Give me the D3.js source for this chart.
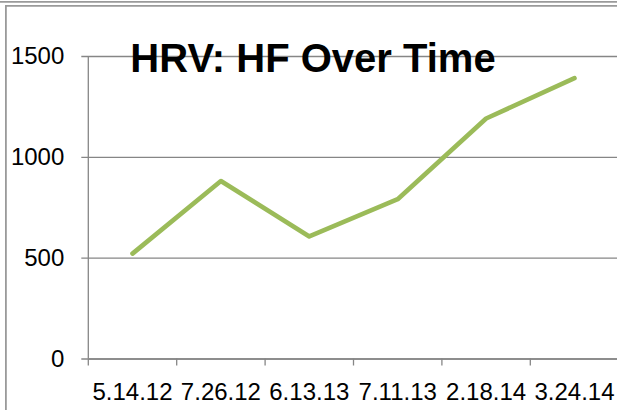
<!DOCTYPE html>
<html>
<head>
<meta charset="utf-8">
<script src="https://cdn.jsdelivr.net/npm/d3@7"></script>
<style>
  body { margin: 0; background: #fff; }
  svg { display: block; }
</style>
</head>
<body>
<div id="chart"></div>
<script>
// HRV: HF Over Time

var dates = ["5.14.12", "7.26.12", "6.13.13", "7.11.13", "2.18.14", "3.24.14"];
var hfValues = [520, 880, 605, 790, 1190, 1390];
var yTicks = [0, 500, 1000, 1500];

var svgWidth = 617;
var svgHeight = 410;

var svg = d3.select("#chart")
  .append("svg")
  .attr("width", svgWidth)
  .attr("height", svgHeight);

// frame bits (the picture is a crop of a bordered chart)
svg.append("line")
  .attr("x1", 0).attr("x2", svgWidth)
  .attr("y1", 1.8).attr("y2", 1.8)
  .attr("stroke", "#9a9a9a").attr("stroke-width", 1.8);
svg.append("line")
  .attr("x1", 5).attr("x2", svgWidth)
  .attr("y1", 5.9).attr("y2", 5.9)
  .attr("stroke", "#9a9a9a").attr("stroke-width", 1.8);
svg.append("line")
  .attr("x1", 5.9).attr("x2", 5.9)
  .attr("y1", 5).attr("y2", svgHeight)
  .attr("stroke", "#9a9a9a").attr("stroke-width", 1.8);

var xScale = d3.scaleBand()
  .domain(dates)
  .range([88.3, 618.7]);

var yScale = d3.scaleLinear()
  .domain([0, 1500])
  .range([358.5, 56]);

var gridColor = "#868686";
var font = "'Liberation Sans', Arial, sans-serif";

// gridlines + left ticks
var leftAxis = d3.axisLeft(yScale)
  .tickValues(yTicks)
  .tickSize(-(618.7 - 88.3))
  .tickSizeOuter(0)
  .tickPadding(24)
  .tickFormat(d3.format("d"));

var yAxisG = svg.append("g")
  .attr("transform", "translate(88.3,0)")
  .call(leftAxis);
yAxisG.select(".domain").remove();
yAxisG.selectAll(".tick line")
  .attr("x1", -7)
  .attr("stroke", gridColor)
  .attr("stroke-width", 1.3);
yAxisG.selectAll(".tick text")
  .attr("fill", "#000")
  .attr("font-family", font)
  .attr("font-size", "24px");

// y axis line
svg.append("line")
  .attr("x1", 88.3).attr("x2", 88.3)
  .attr("y1", yScale(1500)).attr("y2", yScale(0))
  .attr("stroke", gridColor).attr("stroke-width", 1.3);

// x axis with ticks between categories
var bottomAxis = d3.axisBottom(xScale)
  .tickSize(0)
  .tickPadding(24);

var xAxisG = svg.append("g")
  .attr("transform", "translate(0," + yScale(0) + ")")
  .call(bottomAxis);
xAxisG.select(".domain")
  .attr("stroke", gridColor)
  .attr("stroke-width", 1.3);
xAxisG.selectAll(".tick text")
  .attr("fill", "#000")
  .attr("font-family", font)
  .attr("font-size", "24px")
  .attr("dy", "0.72em");

var bounds = dates.map(function(d) { return xScale(d); }).concat([xScale.range()[1]]);
svg.append("g")
  .selectAll("line")
  .data(bounds)
  .enter()
  .append("line")
  .attr("x1", function(d) { return d; })
  .attr("x2", function(d) { return d; })
  .attr("y1", yScale(0))
  .attr("y2", yScale(0) + 7)
  .attr("stroke", gridColor)
  .attr("stroke-width", 1.3);

// the series
var line = d3.line()
  .x(function(d, i) { return xScale(dates[i]) + xScale.bandwidth() / 2; })
  .y(function(d) { return yScale(d); });

svg.append("path")
  .datum(hfValues)
  .attr("d", line)
  .attr("fill", "none")
  .attr("stroke", "#9bbb59")
  .attr("stroke-width", 4.6)
  .attr("stroke-linejoin", "round")
  .attr("stroke-linecap", "round");

// title sits over the plot
svg.append("text")
  .attr("x", 313)
  .attr("y", 72)
  .attr("text-anchor", "middle")
  .attr("font-family", font)
  .attr("font-weight", "bold")
  .attr("font-size", "40px")
  .attr("fill", "#000")
  .text("HRV: HF Over Time");
</script>
</body>
</html>
